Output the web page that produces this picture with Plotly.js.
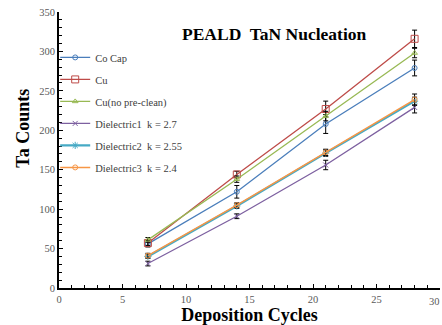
<!DOCTYPE html>
<html><head><meta charset="utf-8">
<script src="https://cdn.plot.ly/plotly-3.0.1.min.js"></script>
<style>html,body{margin:0;padding:0;background:#fff}#c{width:442px;height:325px}</style>
</head><body><div id="c"></div>
<script>
const cycles = [7, 14, 21, 28];
const seriesNames = ["Co Cap", "Cu", "Cu(no pre-clean)", "Dielectric1  k = 2.7", "Dielectric2  k = 2.55", "Dielectric3  k = 2.4"];
const coCap = [56, 122, 208, 279];
const cu = [57, 144, 227, 316];
const cuNoPreclean = [61, 138, 218, 298];
const diel1 = [31, 91, 156, 229];
const diel2 = [40, 104, 171, 237];
const diel3 = [41, 105, 172, 239];
const coCapErr = [4, 8, 12, 10];
const cuErr = [3, 4, 10, 11];
const cuNoErr = [3, 4, 6, 6];
const diel1Err = [3, 3, 6, 7];
const diel2Err = [2, 3, 4, 5];
const diel3Err = [3, 3, 4, 7];
const xTickLabels = ['0', '5', '10', '15', '20', '25', '30'];

const values = [coCap, cu, cuNoPreclean, diel1, diel2, diel3];
const errs = [coCapErr, cuErr, cuNoErr, diel1Err, diel2Err, diel3Err];
const colors = ["#4a7ebb", "#be4b48", "#98b954", "#7d60a0", "#46aac5", "#f79646"];
const symbols = ["circle-open", "square-open", "triangle-up-open", "x-thin-open", "asterisk-open", "circle-open"];
const widths = [1.3, 1.3, 1.3, 1.3, 2.2, 1.5];
const sizes = [5, 7, 5, 5, 6, 5];

const traces = values.map((v, i) => ({
  x: cycles, y: v, name: seriesNames[i], type: 'scatter', mode: 'lines+markers',
  legendgroup: 'g' + i,
  line: {color: colors[i], width: widths[i]},
  marker: {symbol: symbols[i], color: colors[i], size: sizes[i], line: {color: colors[i], width: 1}},
  error_y: {type: 'data', array: errs[i], visible: true, color: '#000', thickness: 1, width: 2.5}
}));

const serif = "'Liberation Serif', 'Times New Roman', serif";
const tf = {family: serif, size: 10.5, color: '#595959'};
const layout = {
  width: 442, height: 325,
  margin: {l: 59, r: 2, t: 12, b: 37},
  paper_bgcolor: '#fff', plot_bgcolor: '#fff',
  showlegend: true,
  legend: {x: -0.01, y: 0.888, xanchor: 'left', yanchor: 'top', bgcolor: 'rgba(0,0,0,0)',
    font: {family: serif, size: 10.5, color: '#404040'},
    tracegroupgap: 3, itemwidth: 30},
  annotations: [
    {text: '<b>PEALD  TaN Nucleation</b>', xref: 'paper', yref: 'paper', x: 0.565, y: 0.92,
      xanchor: 'center', yanchor: 'middle', showarrow: false,
      font: {family: serif, size: 17.5, color: '#000'}},
    {text: '<b>Ta Counts</b>', xref: 'paper', yref: 'paper', x: -0.095, y: 0.58, textangle: -90,
      xanchor: 'center', yanchor: 'middle', showarrow: false,
      font: {family: serif, size: 18, color: '#000'}},
    {text: xTickLabels[6], xref: 'x', yref: 'paper', x: 30, y: -0.02, xanchor: 'right', yanchor: 'top',
      xshift: 2, showarrow: false, font: tf}
  ],
  xaxis: {range: [0, 30], tickvals: [0, 5, 10, 15, 20, 25], ticktext: xTickLabels.slice(0, 6),
    showgrid: false, zeroline: false,
    showline: true, linecolor: '#000', linewidth: 2, ticks: 'inside', ticklen: 4, tickcolor: '#000',
    minor: {dtick: 1, ticks: 'inside', ticklen: 3, tickcolor: '#000', showgrid: false},
    tickfont: tf,
    title: {text: '<b>Deposition Cycles</b>', standoff: 5, font: {family: serif, size: 18, color: '#000'}}},
  yaxis: {range: [0, 350], dtick: 50, showgrid: false, zeroline: false,
    showline: true, linecolor: '#000', linewidth: 2, ticks: 'inside', ticklen: 4, tickcolor: '#000',
    minor: {dtick: 10, ticks: 'inside', ticklen: 3, tickcolor: '#000', showgrid: false},
    tickfont: tf}
};
Plotly.newPlot('c', traces, layout, {displayModeBar: false, staticPlot: true});
</script></body></html>
